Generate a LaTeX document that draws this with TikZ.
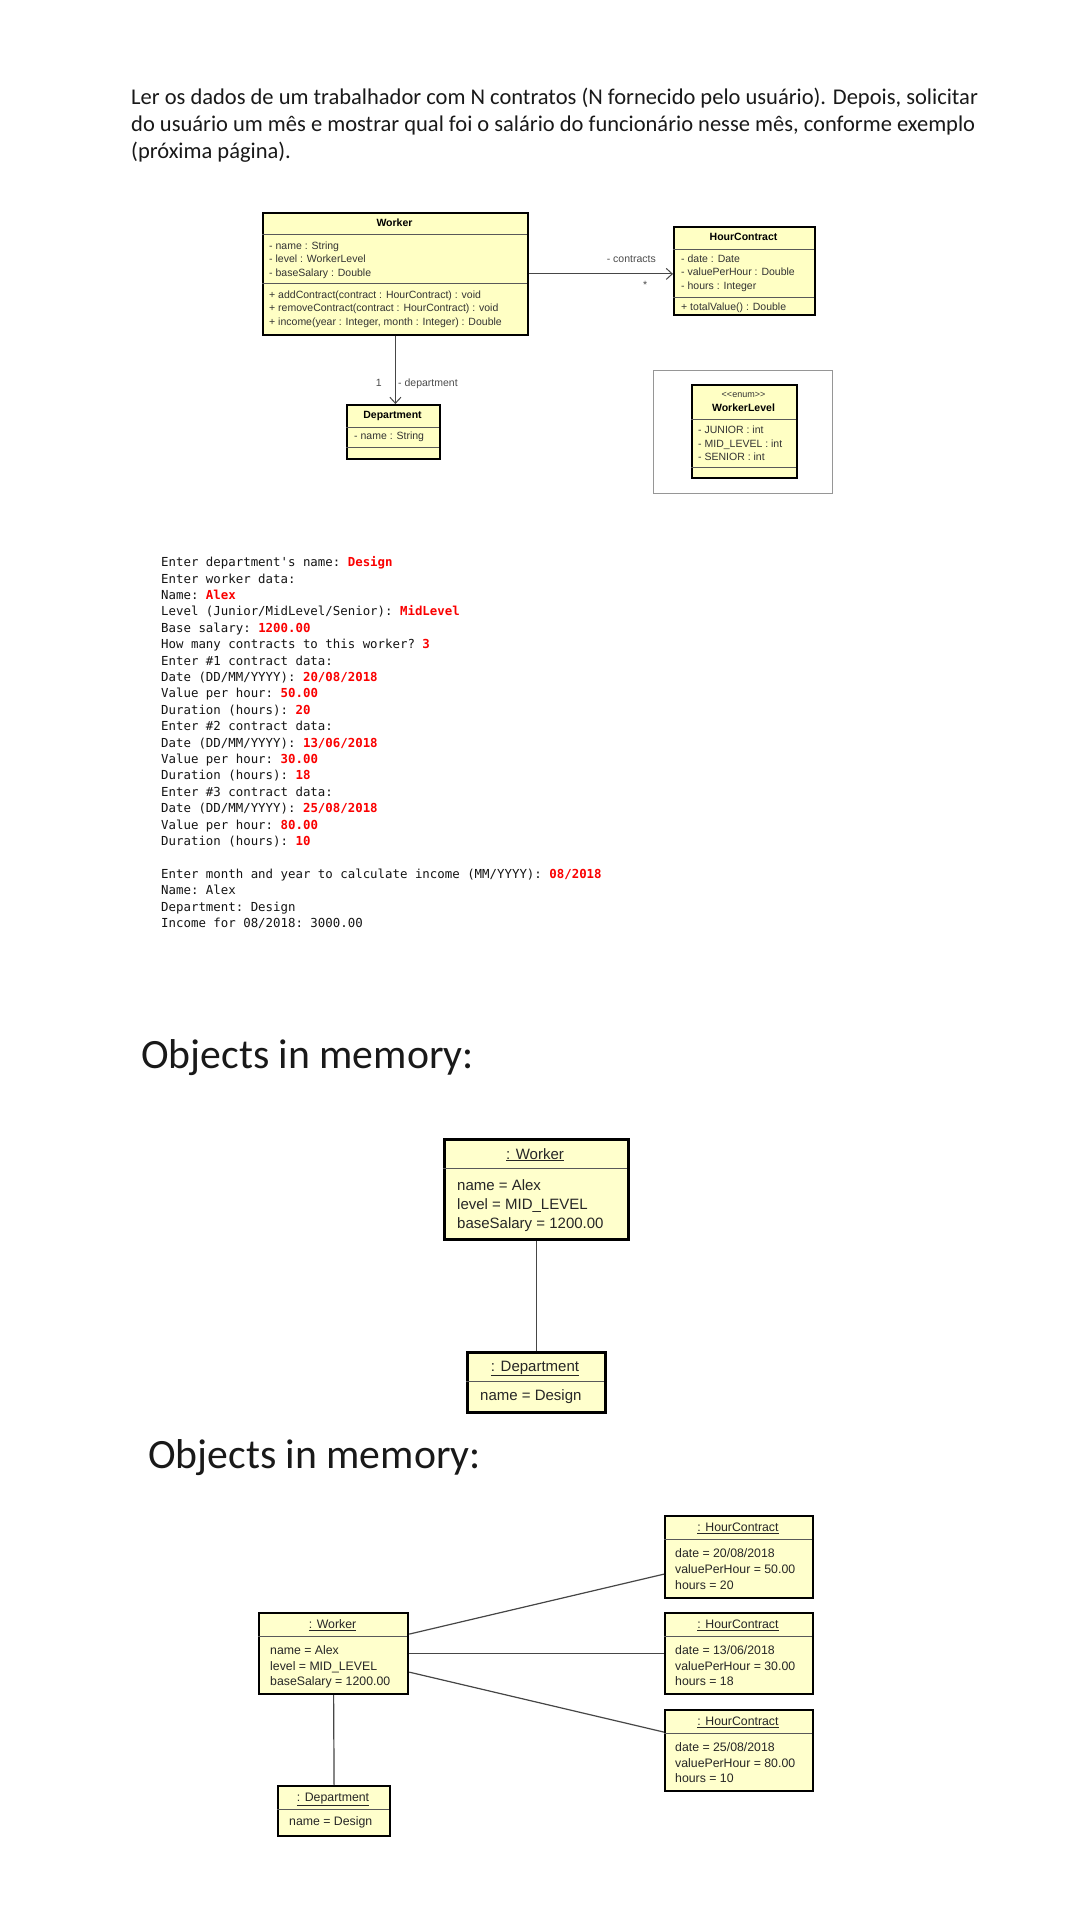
\documentclass[tikz,border=0pt]{standalone}
\usepackage{fontspec}
\setmainfont{Carlito}
\setsansfont{Liberation Sans}
\setmonofont{DejaVu Sans Mono}
\usetikzlibrary{arrows.meta}
\definecolor{umlyellow}{RGB}{255,255,196}
\definecolor{objyellow}{RGB}{255,255,204}
\definecolor{linkgray}{RGB}{70,70,70}
\definecolor{framegray}{RGB}{150,150,150}
\definecolor{inred}{RGB}{250,0,0}
\def\inp#1{\textcolor{inred}{\bfseries #1}}
\tikzset{
	classbox/.style={draw=black, line width=1.8pt, fill=umlyellow, anchor=north west, inner sep=0pt},
	objbox/.style={draw=black, line width=2.6pt, fill=objyellow, anchor=north west, inner sep=0pt},
	sepline/.style={draw=black!65, line width=0.8pt},
	ctitle/.style={font=\sffamily\bfseries\fontsize{10.5}{12}\selectfont, inner sep=0pt, text height=7.6pt, text depth=2.2pt},
	cattr/.style={font=\sffamily\fontsize{10.5}{12}\selectfont, inner sep=0pt, anchor=west, text=black!80, text height=7.6pt, text depth=2.2pt},
	otextbig/.style={font=\sffamily\fontsize{15}{18}\selectfont, inner sep=0pt, text=black!85, text height=11pt, text depth=3pt},
	otextsmall/.style={font=\sffamily\fontsize{12.3}{15}\selectfont, inner sep=0pt, text=black!85, text height=9pt, text depth=2.6pt},
	assoc/.style={draw=linkgray, line width=1pt, -{Straight Barb[length=6pt,width=11pt]}},
	objlink/.style={draw=linkgray, line width=1.2pt},
	heading/.style={font=\fontsize{41.7}{50}\selectfont, inner sep=0pt, anchor=base west, text=black!90},
}

\begin{document}
\begin{tikzpicture}[x=1pt,y=-1pt]
			%%%%% START %%%%%
			\fill[white] (0,0) rectangle (1080,1920);
			\useasboundingbox (0,0) rectangle (1080,1920);
			
			% last line sits on the base anchor
			\node[font=\fontsize{22.5}{27}\selectfont, align=left, anchor=base west, inner sep=0pt, text=black!90] (intro) at (131,158) {Ler os dados de um trabalhador com N contratos (N fornecido pelo usuário). Depois, solicitar\\do usuário um mês e mostrar qual foi o salário do funcionário nesse mês, conforme exemplo\\(próxima página).};
			
			% class diagram
			\node[classbox, minimum width=265pt, minimum height=122pt] (worker) at (262,212) {};
			\draw[sepline] (262,234) -- (527,234);
			\draw[sepline] (262,283) -- (527,283);
			\node[ctitle] at (394.5,223.5) {Worker};
			\node[cattr] at (269,246.5) {- name : String};
			\node[cattr] at (269,260) {- level : WorkerLevel};
			\node[cattr] at (269,273.5) {- baseSalary : Double};
			\node[cattr] at (269,295.5) {+ addContract(contract : HourContract) : void};
			\node[cattr] at (269,309) {+ removeContract(contract : HourContract) : void};
			\node[cattr] at (269,322.5) {+ income(year : Integer, month : Integer) : Double};
			
			\node[classbox, minimum width=141pt, minimum height=88pt] (hourcontract) at (673,226) {};
			\draw[sepline] (673,249) -- (814,249);
			\draw[sepline] (673,297) -- (814,297);
			\node[ctitle] at (743.5,238) {HourContract};
			\node[cattr] at (681,259.5) {- date : Date};
			\node[cattr] at (681,273) {- valuePerHour : Double};
			\node[cattr] at (681,286.5) {- hours : Integer};
			\node[cattr] at (681,308) {+ totalValue() : Double};
			
			\node[classbox, minimum width=93pt, minimum height=54pt] (department) at (346,404) {};
			\draw[sepline] (346,427) -- (439,427);
			\draw[sepline] (346,447) -- (439,447);
			\node[ctitle] at (392.5,415.5) {Department};
			\node[cattr] at (354,437) {- name : String};
			
			\draw[assoc] (worker.east) -- (worker.east -| hourcontract.west);
			\node[cattr, anchor=east, text=black!70] at (656,260) {- contracts};
			\node[cattr, text=black!70] at (643,286) {*};
			\draw[assoc] (worker.south) -- (worker.south |- department.north);
			\node[cattr, anchor=east, text=black!70] at (382,384) {1};
			\node[cattr, text=black!70] at (398,384) {- department};
			
			\draw[framegray, line width=1pt] (653,370) rectangle (832,493);
			\node[classbox, minimum width=105pt, minimum height=93pt] (workerlevel) at (691,384) {};
			\draw[sepline] (691,419) -- (796,419);
			\draw[sepline] (691,467) -- (796,467);
			\node[cattr, anchor=center, font=\sffamily\fontsize{9}{10}\selectfont] at (743.5,395) {{<}{<}enum{>}{>}};
			\node[ctitle] at (743.5,408.5) {WorkerLevel};
			\node[cattr] at (698,431) {- JUNIOR : int};
			\node[cattr] at (698,444.5) {- MID\_LEVEL : int};
			\node[cattr] at (698,458) {- SENIOR : int};
			
			% console
			\node[font=\ttfamily\fontsize{12.4}{16.4}\selectfont, align=left, anchor=base west, inner sep=0pt, text=black!92] (console) at (161,927.5) {Enter department's name: \inp{Design}\\
Enter worker data:\\
Name: \inp{Alex}\\
Level (Junior/MidLevel/Senior): \inp{MidLevel}\\
Base salary: \inp{1200.00}\\
How many contracts to this worker? \inp{3}\\
Enter \#1 contract data:\\
Date (DD/MM/YYYY): \inp{20/08/2018}\\
Value per hour: \inp{50.00}\\
Duration (hours): \inp{20}\\
Enter \#2 contract data:\\
Date (DD/MM/YYYY): \inp{13/06/2018}\\
Value per hour: \inp{30.00}\\
Duration (hours): \inp{18}\\
Enter \#3 contract data:\\
Date (DD/MM/YYYY): \inp{25/08/2018}\\
Value per hour: \inp{80.00}\\
Duration (hours): \inp{10}\\[16.4pt]
Enter month and year to calculate income (MM/YYYY): \inp{08/2018}\\
Name: Alex\\
Department: Design\\
Income for 08/2018: 3000.00};
			
			% objects 1
			\node[heading] (memoryone) at (141,1068) {Objects in memory:};
			
			\node[objbox, minimum width=184pt, minimum height=100pt] (wobj) at (443,1138) {};
			\draw[sepline] (443,1168) -- (627,1168);
			\node[otextbig] at (535,1155) {\underline{: Worker}};
			\node[otextbig, anchor=west] at (457,1186) {name = Alex};
			\node[otextbig, anchor=west] at (457,1205) {level = MID\_LEVEL};
			\node[otextbig, anchor=west] at (457,1224) {baseSalary = 1200.00};
			
			\node[objbox, minimum width=138pt, minimum height=60pt] (dobj) at (466,1351) {};
			\draw[sepline] (466,1381) -- (604,1381);
			\node[otextbig] at (535,1367) {\underline{: Department}};
			\node[otextbig, anchor=west] at (480,1396.5) {name = Design};
			
			\draw[objlink] (wobj.south) -- (dobj.north);
			
			% objects 2
			\node[heading] (memorytwo) at (148,1468) {Objects in memory:};
			
			\node[objbox, line width=2.2pt, minimum width=149pt, minimum height=81pt] (wtwo) at (258,1612) {};
			\draw[sepline] (258,1636) -- (407,1636);
			\node[otextsmall] at (332.5,1625) {\underline{: Worker}};
			\node[otextsmall, anchor=west] at (270,1651) {name = Alex};
			\node[otextsmall, anchor=west] at (270,1667) {level = MID\_LEVEL};
			\node[otextsmall, anchor=west] at (270,1682) {baseSalary = 1200.00};
			
			\node[objbox, line width=2.2pt, minimum width=112pt, minimum height=50pt] (dtwo) at (277,1785) {};
			\draw[sepline] (277,1809) -- (389,1809);
			\node[otextsmall] at (333,1798) {\underline{: Department}};
			\node[otextsmall, anchor=west] at (289,1822.5) {name = Design};
			
			\node[objbox, line width=2.2pt, minimum width=148pt, minimum height=82pt] (hcone) at (664,1515) {};
			\draw[sepline] (664,1539) -- (812,1539);
			\node[otextsmall] at (738,1528) {\underline{: HourContract}};
			\node[otextsmall, anchor=west] at (675,1554) {date = 20/08/2018};
			\node[otextsmall, anchor=west] at (675,1570) {valuePerHour = 50.00};
			\node[otextsmall, anchor=west] at (675,1586) {hours = 20};
			
			\node[objbox, line width=2.2pt, minimum width=148pt, minimum height=81pt] (hctwo) at (664,1612) {};
			\draw[sepline] (664,1636) -- (812,1636);
			\node[otextsmall] at (738,1625) {\underline{: HourContract}};
			\node[otextsmall, anchor=west] at (675,1651) {date = 13/06/2018};
			\node[otextsmall, anchor=west] at (675,1667) {valuePerHour = 30.00};
			\node[otextsmall, anchor=west] at (675,1682) {hours = 18};
			
			\node[objbox, line width=2.2pt, minimum width=148pt, minimum height=81pt] (hcthree) at (664,1709) {};
			\draw[sepline] (664,1733) -- (812,1733);
			\node[otextsmall] at (738,1722) {\underline{: HourContract}};
			\node[otextsmall, anchor=west] at (675,1748) {date = 25/08/2018};
			\node[otextsmall, anchor=west] at (675,1764) {valuePerHour = 80.00};
			\node[otextsmall, anchor=west] at (675,1779) {hours = 10};
			
			\draw[objlink] ([yshift=19.5pt]wtwo.east) -- ([yshift=-17pt]hcone.west);
			\draw[objlink] (wtwo.east) -- (hctwo.west);
			\draw[objlink] ([yshift=-18.5pt]wtwo.east) -- ([yshift=18.5pt]hcthree.west);
			\draw[objlink] (wtwo.south) -- (dtwo.north);
			%%%%% END %%%%%
\end{tikzpicture}
\end{document}
